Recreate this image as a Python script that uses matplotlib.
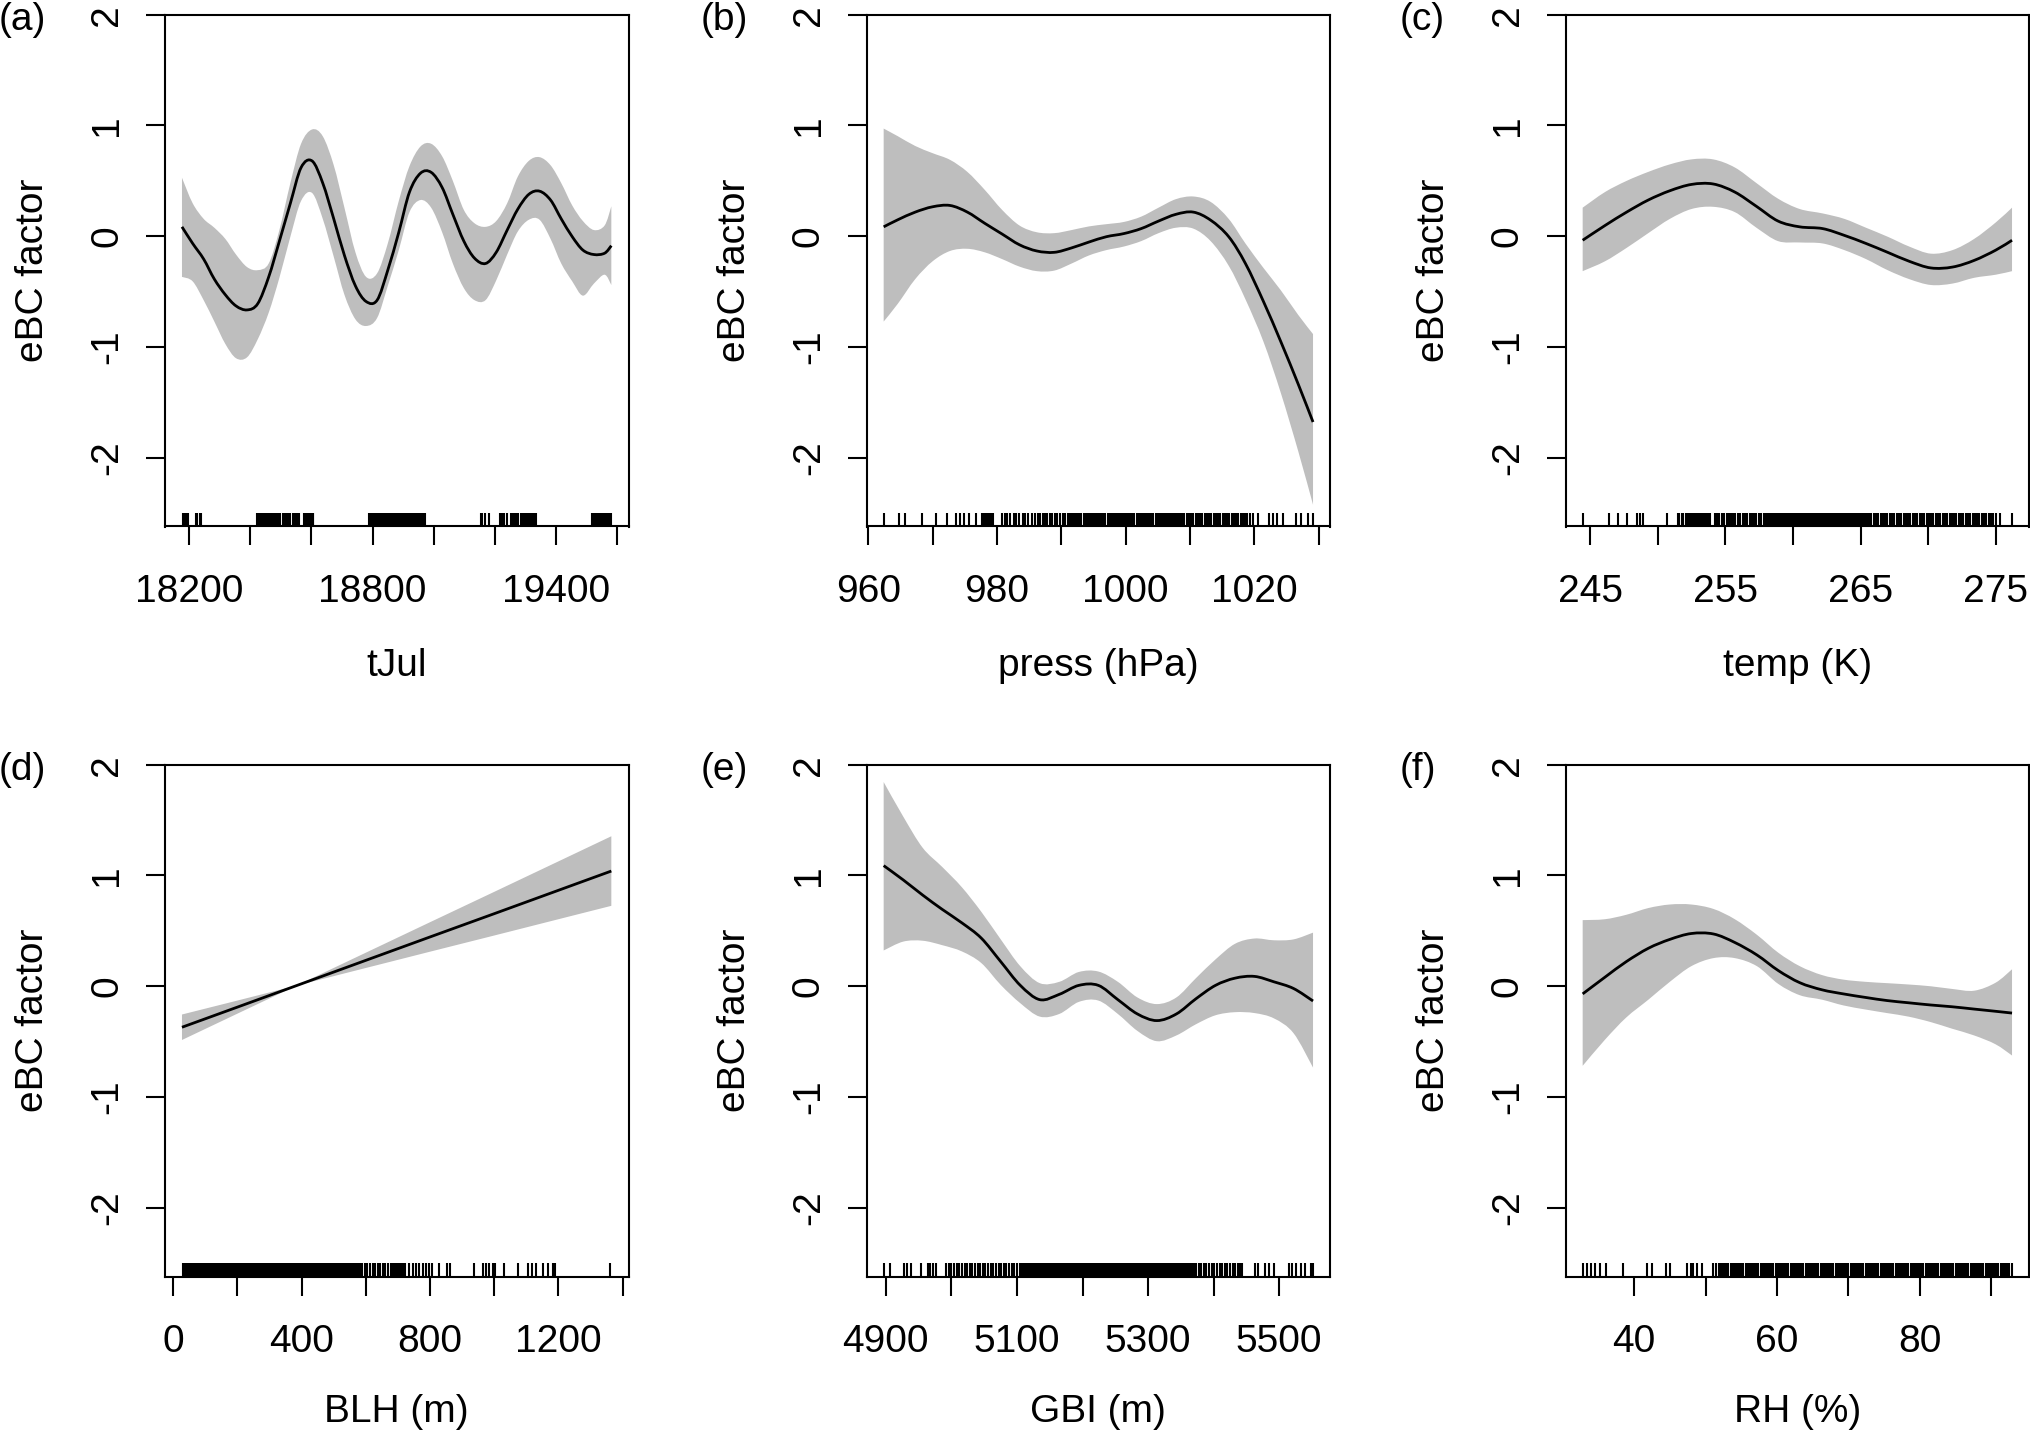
import matplotlib
matplotlib.use("Agg")
import matplotlib.pyplot as plt
from matplotlib.transforms import offset_copy
from matplotlib.path import Path
from matplotlib.patches import PathPatch

plt.rcParams['font.family'] = ['Liberation Sans', 'DejaVu Sans']

# ---------------- data ----------------
y_ticks = [-2, -1, 0, 1, 2]
y_ticklabels = ['-2', '-1', '0', '1', '2']
y_label = 'eBC factor'

# (a) tJul
a_x = [18176, 18211, 18247, 18282, 18318, 18353, 18389, 18424, 18460, 18495, 18531,
       18566, 18602, 18637, 18673, 18708, 18744, 18779, 18815, 18850, 18886, 18921,
       18957, 18992, 19028, 19063, 19099, 19134, 19170, 19205, 19241, 19276, 19312,
       19347, 19383, 19418, 19454, 19489, 19525, 19560, 19582]
a_fit = [0.085, -0.065, -0.206, -0.387, -0.528, -0.629, -0.665, -0.609, -0.367, -0.044,
         0.298, 0.62, 0.68, 0.48, 0.157, -0.173, -0.448, -0.589, -0.577, -0.306, 0.036,
         0.399, 0.569, 0.577, 0.44, 0.198, -0.044, -0.198, -0.246, -0.145, 0.056, 0.246,
         0.379, 0.407, 0.327, 0.157, -0.004, -0.125, -0.165, -0.153, -0.085]
a_upper = [0.528, 0.298, 0.157, 0.077, -0.024, -0.165, -0.278, -0.306, -0.246, 0.056,
           0.48, 0.835, 0.964, 0.903, 0.641, 0.258, -0.145, -0.367, -0.335, -0.065, 0.319,
           0.633, 0.81, 0.835, 0.722, 0.5, 0.238, 0.117, 0.085, 0.137, 0.298, 0.54, 0.681,
           0.714, 0.641, 0.48, 0.278, 0.137, 0.056, 0.097, 0.27]
a_lower = [-0.367, -0.407, -0.577, -0.77, -0.972, -1.101, -1.093, -0.931, -0.69, -0.375,
           -0.004, 0.319, 0.391, 0.157, -0.185, -0.528, -0.75, -0.81, -0.738, -0.448,
           -0.125, 0.218, 0.327, 0.258, 0.036, -0.246, -0.468, -0.577, -0.577, -0.399,
           -0.165, 0.044, 0.149, 0.149, -0.024, -0.246, -0.407, -0.536, -0.427, -0.347, -0.44]
a_rug = [18178, 18182, 18186, 18190, 18194, 18197, 18222, 18226, 18236, 18239,
         18422, 18426, 18430, 18434, 18438, 18442, 18446, 18450, 18454, 18458, 18462,
         18466, 18470, 18474, 18478, 18482, 18486, 18490, 18494, 18498, 18508, 18512,
         18516, 18520, 18524, 18528, 18531, 18540, 18544, 18548, 18552, 18556, 18560,
         18576, 18580, 18584, 18588, 18592, 18596, 18600, 18604, 18606,
         18788, 18792, 18796, 18800, 18804, 18808, 18812, 18816, 18820, 18828, 18832,
         18836, 18840, 18844, 18848, 18852, 18856, 18860, 18864, 18868, 18872, 18876,
         18880, 18884, 18888, 18892, 18896, 18900, 18904, 18908, 18912, 18916, 18920,
         18924, 18928, 18932, 18936, 18940, 18944, 18948, 18952, 18956, 18960, 18964,
         18968, 18972,
         19154, 19159, 19167, 19183, 19216, 19223, 19232, 19241,
         19254, 19258, 19262, 19266, 19270, 19274, 19278, 19286, 19290, 19294, 19298,
         19306, 19310, 19314, 19318, 19322, 19326, 19330, 19334,
         19518, 19522, 19526, 19530, 19534, 19538, 19542, 19546, 19550, 19554, 19562,
         19566, 19570, 19574, 19578, 19581]
a_ticks = [18200, 18400, 18600, 18800, 19000, 19200, 19400, 19600]
a_ticklabels = ['18200', '', '', '18800', '', '', '19400', '']

# (b) press
b_x = [962.4, 964.6, 967.3, 970.0, 972.7, 975.4, 978.1, 980.8, 983.5, 986.2, 988.9,
       991.6, 994.3, 997.0, 999.7, 1002.4, 1005.1, 1007.8, 1010.5, 1013.2, 1016.0,
       1018.6, 1021.4, 1024.1, 1026.8, 1029.1]
b_fit = [0.085, 0.149, 0.218, 0.266, 0.278, 0.218, 0.117, 0.02, -0.077, -0.133, -0.145,
         -0.105, -0.052, -0.004, 0.024, 0.069, 0.137, 0.198, 0.218, 0.145, -0.004,
         -0.246, -0.589, -0.952, -1.335, -1.677]
b_upper = [0.972, 0.903, 0.815, 0.75, 0.69, 0.581, 0.419, 0.238, 0.097, 0.036, 0.028,
           0.056, 0.089, 0.109, 0.129, 0.177, 0.258, 0.335, 0.359, 0.31, 0.157, -0.065,
           -0.286, -0.488, -0.71, -0.883]
b_lower = [-0.77, -0.609, -0.387, -0.226, -0.133, -0.113, -0.145, -0.206, -0.274, -0.315,
           -0.31, -0.246, -0.173, -0.125, -0.093, -0.044, 0.028, 0.077, 0.069, -0.044,
           -0.266, -0.569, -0.952, -1.415, -1.94, -2.423]
b_rug = [962.4, 964.8, 965.7, 968.3, 970.6, 972.2, 973.6, 974.3, 974.9, 975.7, 976.7,
         977.6, 977.9, 978.2, 978.5, 978.8, 979.1, 979.4,
         980.8, 981.2, 981.6, 982.0, 982.7, 983.0, 983.5, 984.1, 984.4, 984.8, 985.4,
         985.9, 986.3, 986.7, 987.1, 987.4, 987.8, 988.2, 988.6, 989.0, 989.4, 989.8,
         990.2, 990.6, 991.0,
         991.25, 991.5, 991.75, 992.0, 992.25, 992.5, 992.75, 993.0, 993.5, 993.75, 994.0,
         994.25, 994.5, 994.75, 995.0, 995.25, 995.5, 995.75, 996.0, 996.25, 996.5,
         996.75, 997.25, 997.5, 997.75, 998.0, 998.25, 998.5, 998.75, 999.0, 999.25,
         999.5, 999.75, 1000.0, 1000.25, 1000.5, 1000.75, 1001.0, 1001.25, 1001.75,
         1002.0, 1002.25, 1002.5, 1002.75, 1003.0, 1003.25, 1003.5, 1003.75, 1004.0,
         1004.25, 1004.75, 1005.0, 1005.25, 1005.5, 1005.75, 1006.0, 1006.25, 1006.5,
         1006.75, 1007.0, 1007.25, 1007.5, 1007.75,
         1008.1, 1008.4, 1008.8, 1009.1, 1009.5, 1009.8, 1010.2, 1010.5, 1010.9, 1011.2,
         1011.6, 1011.9, 1012.3, 1012.6, 1013.0, 1013.3, 1013.7, 1014.0, 1014.4, 1014.7,
         1015.1, 1015.4, 1015.8, 1016.1, 1016.5, 1016.8, 1017.2, 1017.5, 1017.9, 1018.2,
         1018.6, 1018.9, 1019.3, 1019.7,
         1020.5, 1022.3, 1022.9, 1023.5, 1024.4, 1026.5, 1027.3, 1028.3, 1029.1]
b_ticks = [960, 970, 980, 990, 1000, 1010, 1020, 1030]
b_ticklabels = ['960', '', '980', '', '1000', '', '1020', '']

# (c) temp
c_x = [244.45, 246.1, 247.7, 249.3, 250.9, 252.5, 254.1, 255.7, 257.3, 258.9, 260.5,
       262.2, 263.8, 265.4, 267.0, 268.6, 270.2, 271.8, 273.4, 275.0, 276.2]
c_fit = [-0.036, 0.097, 0.218, 0.327, 0.411, 0.468, 0.472, 0.399, 0.27, 0.137, 0.085,
         0.069, 0.008, -0.065, -0.145, -0.226, -0.286, -0.278, -0.218, -0.125, -0.036]
c_upper = [0.258, 0.399, 0.5, 0.581, 0.649, 0.694, 0.694, 0.621, 0.48, 0.339, 0.246,
           0.206, 0.157, 0.077, -0.004, -0.093, -0.157, -0.125, -0.024, 0.125, 0.258]
c_lower = [-0.315, -0.226, -0.105, 0.028, 0.157, 0.246, 0.266, 0.218, 0.077, -0.044,
           -0.056, -0.065, -0.125, -0.206, -0.306, -0.387, -0.44, -0.427, -0.375, -0.347,
           -0.315]
c_rug = [244.45, 246.39, 247.06, 247.72, 248.49, 248.72, 248.91, 250.72, 251.47, 251.59,
         251.76, 251.89, 252.06,
         252.2, 252.3, 252.45, 252.55, 252.7, 252.8, 252.95, 253.05, 253.2, 253.3, 253.45,
         253.6, 253.75, 253.87,
         254.25, 254.4, 254.55, 254.75, 254.9, 255.1, 255.25, 255.4, 255.6, 255.75,
         255.95, 256.1, 256.3, 256.45, 256.6, 256.8, 256.95, 257.15, 257.3, 257.5,
         257.65, 257.83,
         258.0, 258.13, 258.26, 258.39, 258.52, 258.65, 258.78, 258.91, 259.04, 259.17,
         259.3, 259.43, 259.56, 259.69, 259.82, 259.95, 260.08, 260.21, 260.34, 260.47,
         260.6, 260.73, 260.86, 260.99, 261.12, 261.25, 261.38, 261.51, 261.64, 261.77,
         261.9, 262.03, 262.16, 262.29, 262.42, 262.55, 262.68, 262.81, 262.94, 263.07,
         263.2, 263.33, 263.46, 263.59, 263.72, 263.85, 263.98, 264.11, 264.24, 264.37,
         264.5, 264.63, 264.76, 264.89, 265.02, 265.15, 265.28, 265.41, 265.54, 265.67,
         265.8,
         265.97, 266.14, 266.31, 266.48, 266.65, 266.82, 266.99, 267.16, 267.33, 267.5,
         267.67, 267.84, 268.01, 268.18, 268.35, 268.52, 268.69, 268.86, 269.03, 269.2,
         269.37, 269.54, 269.71, 269.88, 270.05, 270.22, 270.39, 270.56, 270.73, 270.9,
         271.07, 271.24, 271.41, 271.58, 271.75, 271.92, 272.09, 272.26, 272.43, 272.6,
         272.77, 272.94, 273.11, 273.28, 273.45, 273.62, 273.79, 273.96, 274.13, 274.3,
         274.47, 274.64, 274.81, 275.0, 275.3, 276.2]
c_ticks = [245, 250, 255, 260, 265, 270, 275]
c_ticklabels = ['245', '', '255', '', '265', '', '275']

# (d) BLH
d_x = [27, 200, 385, 600, 800, 1000, 1200, 1365]
d_fit = [-0.37, -0.188, 0.007, 0.234, 0.445, 0.655, 0.866, 1.04]
d_upper = [-0.255, -0.129, 0.007, 0.303, 0.578, 0.852, 1.127, 1.354]
d_lower = [-0.485, -0.247, 0.007, 0.165, 0.312, 0.458, 0.605, 0.726]
d_rug = [29, 33, 37, 41, 45, 49, 53, 57, 61, 65, 69, 73, 77, 81, 85, 89, 93, 97, 101,
         105, 109, 113, 117, 121, 125, 129, 133, 137, 141, 145, 149, 153, 157, 161, 165,
         169, 173, 177, 181, 185, 189, 193, 197, 201, 205, 209, 213, 217, 221, 225, 229,
         233, 237, 241, 245, 249, 253, 257, 261, 265, 269, 273, 277, 281, 285, 289, 293,
         297, 301, 305, 309, 313, 317, 321, 325, 329, 333, 337, 341,
         347, 353, 359, 365, 371, 377, 383, 389, 395, 401, 407, 413, 419, 425, 431, 437,
         443, 449, 455, 461, 467, 473, 479, 485, 491, 497, 503, 509, 515, 521, 527, 533,
         539, 545, 551, 557, 563, 569, 575, 581,
         589, 597, 605, 613, 621, 629, 637, 645, 653, 661, 669, 677, 684,
         690, 695, 700, 705, 710, 715, 721, 736, 746, 757, 767, 778, 788, 796, 807, 828,
         852, 861, 936, 964, 975, 985, 995, 1004, 1030, 1073, 1104, 1118, 1130, 1151,
         1167, 1182, 1190, 1362]
d_ticks = [0, 200, 400, 600, 800, 1000, 1200, 1400]
d_ticklabels = ['0', '', '400', '', '800', '', '1200', '']

# (e) GBI
e_x = [4896.7, 4926.5, 4956.2, 4986.0, 5015.8, 5045.5, 5075.3, 5105.1, 5134.8, 5164.6,
       5194.4, 5224.1, 5253.9, 5283.7, 5313.4, 5343.2, 5373.0, 5402.8, 5432.5, 5462.3,
       5492.0, 5521.8, 5551.6]
e_fit = [1.089, 0.96, 0.823, 0.694, 0.573, 0.435, 0.222, 0.008, -0.121, -0.073, 0.008,
         0.008, -0.121, -0.25, -0.31, -0.25, -0.113, 0.008, 0.073, 0.089, 0.04, -0.02,
         -0.133]
e_upper = [1.843, 1.532, 1.25, 1.077, 0.895, 0.673, 0.423, 0.181, 0.028, 0.04, 0.129,
           0.133, 0.04, -0.101, -0.161, -0.101, 0.073, 0.242, 0.383, 0.431, 0.415, 0.423,
           0.484]
e_lower = [0.323, 0.403, 0.411, 0.371, 0.315, 0.21, 0.012, -0.153, -0.274, -0.25, -0.141,
           -0.129, -0.25, -0.403, -0.496, -0.444, -0.343, -0.262, -0.234, -0.242, -0.29,
           -0.423, -0.734]
e_rug = [4897, 4906, 4927.5, 4931.6, 4939, 4954, 4965, 4968, 4972, 4976,
         4992, 4996, 5000, 5004, 5008, 5012, 5016, 5020, 5024, 5028, 5032, 5036, 5040,
         5044, 5048, 5052, 5056, 5060, 5064, 5068, 5072, 5076, 5080, 5084, 5088, 5092,
         5096, 5100, 5104,
         5106, 5109, 5112, 5115, 5118, 5121, 5124, 5127, 5130, 5133, 5136, 5139, 5142,
         5145, 5148, 5151, 5154, 5157, 5160, 5163, 5166, 5169, 5172, 5175, 5178, 5181,
         5184, 5187, 5190, 5193, 5196, 5199, 5202, 5205, 5208, 5211, 5214, 5217, 5220,
         5223, 5226, 5229, 5232, 5235, 5238, 5241, 5244, 5247, 5250, 5253, 5256, 5259,
         5262, 5265, 5268, 5271, 5274, 5277, 5280, 5283, 5286, 5289, 5292, 5295, 5298,
         5301, 5304, 5307, 5310, 5313, 5316, 5319, 5322, 5325, 5328, 5331, 5334, 5337,
         5340, 5343, 5346, 5349, 5352, 5355, 5358, 5361, 5364, 5367, 5370, 5373,
         5377, 5381, 5385, 5389, 5393, 5397, 5401, 5405, 5409, 5413, 5417, 5421, 5425,
         5429, 5433, 5437, 5440,
         5443, 5463, 5468, 5479, 5484, 5492, 5515, 5520, 5525, 5533, 5540, 5548, 5551]
e_ticks = [4900, 5000, 5100, 5200, 5300, 5400, 5500]
e_ticklabels = ['4900', '', '5100', '', '5300', '', '5500']

# (f) RH
f_x = [32.8, 35.9, 38.9, 42.0, 45.0, 48.0, 51.1, 54.1, 57.2, 60.2, 63.2, 66.3, 69.3,
       72.4, 75.4, 78.4, 81.5, 84.5, 87.6, 90.6, 92.9]
f_fit = [-0.069, 0.081, 0.222, 0.343, 0.423, 0.476, 0.472, 0.395, 0.282, 0.141, 0.032,
         -0.032, -0.069, -0.101, -0.129, -0.149, -0.169, -0.185, -0.206, -0.226, -0.242]
f_upper = [0.597, 0.605, 0.645, 0.706, 0.738, 0.738, 0.698, 0.605, 0.464, 0.302, 0.181,
           0.101, 0.06, 0.04, 0.028, 0.016, 0.0, -0.024, -0.04, 0.032, 0.153]
f_lower = [-0.718, -0.484, -0.282, -0.121, 0.04, 0.181, 0.254, 0.254, 0.181, 0.02,
           -0.081, -0.121, -0.173, -0.21, -0.242, -0.274, -0.323, -0.383, -0.444, -0.524,
           -0.625]
f_rug = [32.8, 33.34, 33.9, 34.5, 35.2, 36.0, 38.4, 41.8, 42.5, 44.5, 45.0, 47.4, 47.9,
         48.3, 48.8, 49.5, 51.1, 51.4, 51.9, 52.1, 52.3,
         52.6, 52.9, 53.2, 53.5, 53.8, 54.1, 54.4, 54.7, 55.0, 55.3, 55.6, 55.9, 56.2,
         56.5, 56.8, 57.1, 57.4, 57.7, 58.0, 58.3, 58.6, 58.9, 59.2, 59.5, 59.8, 60.1,
         60.4, 60.7, 61.0, 61.3, 61.6, 61.9, 62.2, 62.5, 62.8, 63.1, 63.4, 63.7, 64.0,
         64.3, 64.6, 64.9, 65.2, 65.5, 65.8, 66.1, 66.4, 66.7, 67.0, 67.3, 67.6, 67.9,
         68.2, 68.5, 68.8, 69.1, 69.4, 69.7, 70.0, 70.3, 70.6, 70.9, 71.2, 71.5, 71.8,
         72.1, 72.4, 72.7, 73.0, 73.3, 73.6, 73.9, 74.2, 74.5, 74.8, 75.1, 75.4, 75.7,
         76.0, 76.3, 76.6, 76.9, 77.2, 77.5, 77.8, 78.1, 78.4, 78.7, 79.0, 79.3, 79.6,
         79.9, 80.2, 80.5, 80.8, 81.1, 81.4, 81.7, 82.0, 82.3, 82.6, 82.9, 83.2, 83.5,
         83.8, 84.1, 84.4, 84.7, 85.0, 85.3, 85.6, 85.9, 86.2, 86.5, 86.8, 87.1, 87.4,
         87.7, 88.0, 88.3, 88.6, 88.9, 89.2, 89.5, 89.8, 90.1, 90.4, 90.7, 91.0, 91.3,
         91.6, 91.9, 92.2, 92.5, 92.9]
f_ticks = [40, 50, 60, 70, 80, 90]
f_ticklabels = ['40', '', '60', '', '80', '']

tags = ['(a)', '(b)', '(c)', '(d)', '(e)', '(f)']
x_labels = ['tJul', 'press (hPa)', 'temp (K)', 'BLH (m)', 'GBI (m)', 'RH (%)']
smooth_flags = [True, True, True, False, True, True]

panels = [
    (a_x, a_fit, a_upper, a_lower, a_rug, a_ticks, a_ticklabels),
    (b_x, b_fit, b_upper, b_lower, b_rug, b_ticks, b_ticklabels),
    (c_x, c_fit, c_upper, c_lower, c_rug, c_ticks, c_ticklabels),
    (d_x, d_fit, d_upper, d_lower, d_rug, d_ticks, d_ticklabels),
    (e_x, e_fit, e_upper, e_lower, e_rug, e_ticks, e_ticklabels),
    (f_x, f_fit, f_upper, f_lower, f_rug, f_ticks, f_ticklabels),
]


def curve_path(xs, ys, smooth):
    """Path through the read points; smooth=True draws cubic Bezier
    segments (Catmull-Rom style) between consecutive points."""
    pts = list(zip(xs, ys))
    n = len(pts)
    verts = [pts[0]]
    codes = [Path.MOVETO]
    for k in range(n - 1):
        p1, p2 = pts[k], pts[k + 1]
        if not smooth:
            verts.append(p2)
            codes.append(Path.LINETO)
            continue
        p0 = pts[k - 1] if k > 0 else p1
        p3 = pts[k + 2] if k + 2 < n else p2
        c1 = (p1[0] + (p2[0] - p0[0]) / 6.0, p1[1] + (p2[1] - p0[1]) / 6.0)
        c2 = (p2[0] - (p3[0] - p1[0]) / 6.0, p2[1] - (p3[1] - p1[1]) / 6.0)
        verts += [c1, c2, p2]
        codes += [Path.CURVE4] * 3
    return verts, codes


# ---------------- layout (pixels) ----------------
W, H = 2030, 1437
fig = plt.figure(figsize=(W / 100, H / 100), dpi=100)
LEFTS = [164.8, 866.5, 1565.5]
TOPS = [14.7, 764.7]
XLAB_OFF = [150, 146]
BW, BH = 463.7, 511.8
FS = 28

for i, (x, fit, up, lo, rug, ticks, ticklabels) in enumerate(panels):
    r, c = divmod(i, 3)
    left, top = LEFTS[c], TOPS[r]
    sm = smooth_flags[i]
    ax = fig.add_axes([left / W, 1 - (top + BH) / H, BW / W, BH / H])

    # confidence band
    vu, cu = curve_path(x, up, sm)
    vl, cl = curve_path(x[::-1], lo[::-1], sm)
    cl[0] = Path.LINETO
    band = Path(vu + vl + [vu[0]], cu + cl + [Path.CLOSEPOLY])
    ax.add_patch(PathPatch(band, facecolor='#BEBEBE', edgecolor='none', lw=0,
                           transform=ax.transData))
    # fitted smooth
    vf, cf = curve_path(x, fit, sm)
    ax.add_patch(PathPatch(Path(vf, cf), facecolor='none', edgecolor='black',
                           lw=2.0, transform=ax.transData, capstyle='butt'))
    # rug
    ax.vlines(rug, 0, 0.026, transform=ax.get_xaxis_transform(),
              color='black', lw=1.5)

    span = x[-1] - x[0]
    ax.set_xlim(x[0] - 0.04 * span, x[-1] + 0.04 * span)
    ax.set_ylim(-2.62, 2.0)
    ax.set_xticks(ticks)
    ax.set_xticklabels(ticklabels)
    ax.set_yticks(y_ticks)
    ax.set_yticklabels(y_ticklabels)
    ax.tick_params(axis='both', direction='out', length=14, width=1.5,
                   labelsize=FS, color='black')
    ax.tick_params(axis='x', pad=20)
    ax.tick_params(axis='y', pad=14.5, labelrotation=90)
    for lab in ax.get_yticklabels():
        lab.set_verticalalignment('center')
    for s in ax.spines.values():
        s.set_linewidth(1.5)
    ax.text(0, 0.5, y_label,
            transform=offset_copy(ax.transAxes, fig=fig, x=-121.4, y=0, units='dots'),
            rotation=90, rotation_mode='anchor', ha='center', va='baseline', fontsize=FS)
    ax.text(0.5, 0, x_labels[i],
            transform=offset_copy(ax.transAxes, fig=fig, x=0, y=-XLAB_OFF[r], units='dots'),
            ha='center', va='baseline', fontsize=FS)
    ax.text(0, 1, tags[i],
            transform=offset_copy(ax.transAxes, fig=fig, x=-166, y=-15.3, units='dots'),
            ha='left', va='baseline', fontsize=FS)

fig.savefig('out.png', dpi=100)
